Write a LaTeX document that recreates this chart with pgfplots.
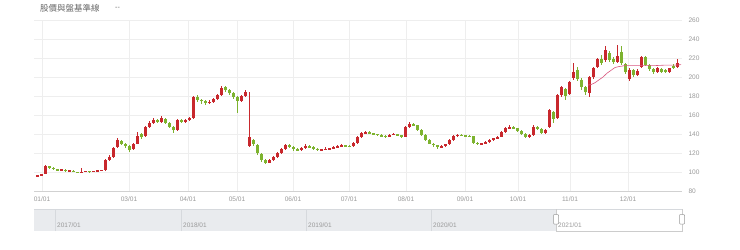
\documentclass[border=0pt]{standalone}
\usepackage{pgfplots}
\pgfplotsset{compat=1.18}
\usepackage{pgfplotstable}
\usepackage{fontspec}
\setmainfont{Liberation Sans}
\newfontfamily\cjk{Noto Sans CJK TC}
\definecolor{cred}{HTML}{C8282D}
\definecolor{cgreen}{HTML}{7DB32F}
\definecolor{cpink}{HTML}{D9577F}
\definecolor{cgrid}{HTML}{EEEEEE}
\definecolor{clab}{HTML}{999999}
\definecolor{cnav}{HTML}{E9EBEE}
\definecolor{cnavline}{HTML}{D6D9DD}

\pgfplotstableread{
x o c h l
2 96 96.5 97 95.5
6 96.5 97.5 98 96
10 98 106 107 97.5
14 106 104 106.5 103
18 104.5 103 105 102.5
22 103 102 103.5 101
26 102 102.5 103 101.5
30 102.5 101 103 100.5
34 101 101.5 102 100.5
38 101.5 100 102 99.5
42 100 99.5 100.5 98.5
46 99.5 100.5 104 99
50 100.5 101 101.5 100
54 101 100.5 101.5 99.5
58 100.5 101 101.5 100
62 101 101.5 102 100.5
66 101.5 102 102.5 101
70 102 113 114 101.5
74 113 116 118 112
78 116 125 126 115
82 126 134 136 125
86 133 130 134 128
90 130 127 131 125
94 127 123 128 121
98 124 130 131 123
102 130 138 142 129
106 140 137 141 135
110 138 147 148 137
114 147 152 154 146
118 152 155 157 151
122 155 153 156 152
126 153 157 159 152
130 156 152 157 151
134 152 147 153 146
138 147 144 148 141
142 144 155 156 143
146 155 153 156 152
150 153 155 156 152
154 155 157 158 154
158 157 179 180 156
162 179 176 181 174
166 176 175 177 172
170 175 173 176 171
174 173 174 176 172
178 174 177 178 173
182 177 181 182 176
186 181 188 191 180
190 189 186 190 184
194 186 183 187 181
198 183 179 184 177
202 179 175 180 162
206 175 180 181 174
210 180 184 186 179
214 127 137 184 126
218 134 129 135 127
222 128 120 129 118
226 119 113 120 111
230 113 110 114 108
234 110 113 114 109
238 113 116 117 112
242 116 120 121 115
246 120 124 125 119
250 124 128 129 123
254 128 126 129 125
258 126 124 127 122
262 124 123 125 122
266 123 125 126 122
270 125 127 129 124
274 127 126 128 125
278 126 124.5 127 123.5
282 124.5 123 125 122
286 123 123.5 124 122.5
290 123.5 124 126 123
294 124 124.5 125 123.5
298 124.5 126 127 124
302 126 127 128 125.5
306 127 128 129 126.5
310 128 127.5 128.5 126.5
314 127.5 127 128 126
318 127 131 132 126.5
322 131 137 138 130
326 137 141 142 136
330 141 142 143 140
334 142 141 143 140
338 141 140 141.5 139
342 140 139 140.5 138
346 139 137.5 139.5 137
350 138 137 138.5 136
354 137 139 140 136.5
358 139 140 141 138.5
362 140 138.5 140.5 138
366 138.5 137 139 136
370 137 147 148 136.5
374 147 151 153 146
378 151 149 152 148
382 149 144 150 143
386 144 139 145 138
390 139 134 140 133
394 134 130 135 129
398 130 128 131 126
402 128 126 128.5 124
406 126 127 128 125
410 127 129 130 126
414 129 134 135 128
418 134 138 139 133
422 138 139 140 137
426 139 138.5 139.5 137.5
430 138.5 138 139 137
434 138 137.5 138.5 136.5
438 137.5 131 138 130
442 131 129.5 132 128.5
446 129.5 130 131 129
450 130 132 133 129.5
454 132 134 135 131
458 134 135.5 136 133
462 135.5 137 138 135
466 137 142 143 136.5
470 142 146 147 141
474 146 147 149 145
478 147 146 148 145
482 146 143 146.5 142
486 143 140 144 139
490 140 137 141 136
494 137 139 140 136
498 139 147 149 138
502 147 145 148 144
506 145 141 146 140
510 141 144 145 140
514 147 165 166 146
518 163 156 164 152
522 157 181 182 156
526 181 189 191 179
530 187 180 188 176
534 182 195 196 181
538 199 205 215 197
542 207 198 210 196
546 197 189 199 186
550 189 184 190 181
554 183 200 201 179
558 200 210 211 198
562 211 219 220 209
566 219 215 223 213
570 218 228 233 216
574 225 218 227 216
578 219 216 221 214
582 216 222 234 215
586 226 215 233 213
590 214 205 215 203
594 198 207 209 196
598 207 202 208 200
602 202 206 208 201
606 210 221 222 209
610 221 213 222 212
614 213 208 214 206
618 208 205 209 203
622 205 209 211 204
626 208 205 209 204
630 207 205 208 204
634 205 209 210 204
638 212 209 214 208
642 210 215 219 209
}\candles

\pgfplotstableread{
x y
553 191.5
556 192
560 194
564 197
568 200
572 204
576 207
580 210
584 211
590 212
600 212
610 212
620 212
630 212.5
640 212.5
646 213
}\maline

\begin{document}
\begin{tikzpicture}[x=1bp,y=1bp]
\path[use as bounding box] (0,0) rectangle (740,249);
% title
\node[anchor=west, inner sep=0pt, text=black!60] at (40,241) {\cjk\fontsize{8.5}{9}\selectfont 股價與盤基準線};
\node[anchor=west, inner sep=0pt, text=black!60] at (115,241) {\fontsize{7}{8}\selectfont -{}-};
% navigator
\fill[cnav] (34,18) rectangle (556,40);
\draw[cnavline, line width=0.6bp] (34,40) -- (682,40);
\foreach \xx in {55,181,306,431} {\draw[cnavline, line width=0.6bp] (\xx,18) -- (\xx,40);}
\draw[black!20, line width=0.6bp] (556,40) -- (556,18) -- (682,18) -- (682,40);
\foreach \xx/\lab in {57/{2017/01},183/{2018/01},308/{2019/01},433/{2020/01},558/{2021/01}}
  {\node[anchor=west, inner sep=0pt, text=clab] at (\xx,23.5) {\fontsize{6.5}{7}\selectfont \lab};}
\draw[black!40, fill=white, rounded corners=0.8bp, line width=0.5bp] (553.5,25) rectangle (558.5,34.5);
\draw[black!40, fill=white, rounded corners=0.8bp, line width=0.5bp] (679.5,25) rectangle (684.5,34.5);
\begin{axis}[
  at={(34bp,58bp)}, anchor=south west, scale only axis,
  width=648bp, height=171bp,
  xmin=-1, xmax=647, ymin=80, ymax=260,
  axis y line*=right, axis x line*=bottom,
  axis line style={draw=none},
  major tick length=0pt,
  ytick={80,100,...,260},
  xtick={7,94,153,202,258,314,371,430,483,535,593},
  xticklabels={01/01,03/01,04/01,05/01,06/01,07/01,08/01,09/01,10/01,11/01,12/01},
  grid=major,
  major grid style={cgrid, line width=0.6bp},
  tick label style={font=\fontsize{6.6}{7}\selectfont, text=clab},
  /pgf/number format/assume math mode=true,
  yticklabel style={anchor=west, xshift=3bp},
  xticklabel style={yshift=-2.5bp},
  clip=true,
  candle/.style={draw=none, mark=none, forget plot},
]
\draw[black!18, line width=0.7bp] (axis cs:-1,80) -- (axis cs:647,80);
% red (up) wicks and bodies
\addplot[candle,
  restrict expr to domain={\thisrow{c}-\thisrow{o}}{0:1000},
  error bars/.cd, y dir=both, y explicit, error mark=none,
  error bar style={draw=cred, line width=0.7bp}]
  table[x=x, y expr={(\thisrow{h}+\thisrow{l})/2}, y error expr={(\thisrow{h}-\thisrow{l})/2}] {\candles};
\addplot[candle,
  restrict expr to domain={\thisrow{c}-\thisrow{o}}{0:1000},
  error bars/.cd, y dir=both, y explicit, error mark=none,
  error bar style={draw=cred, line width=3bp}]
  table[x=x, y expr={(\thisrow{o}+\thisrow{c})/2}, y error expr={max(abs(\thisrow{c}-\thisrow{o})/2,0.5)}] {\candles};
% green (down) wicks and bodies
\addplot[candle,
  restrict expr to domain={\thisrow{c}-\thisrow{o}}{-1000:-0.01},
  error bars/.cd, y dir=both, y explicit, error mark=none,
  error bar style={draw=cgreen, line width=0.7bp}]
  table[x=x, y expr={(\thisrow{h}+\thisrow{l})/2}, y error expr={(\thisrow{h}-\thisrow{l})/2}] {\candles};
\addplot[candle,
  restrict expr to domain={\thisrow{c}-\thisrow{o}}{-1000:-0.01},
  error bars/.cd, y dir=both, y explicit, error mark=none,
  error bar style={draw=cgreen, line width=3bp}]
  table[x=x, y expr={(\thisrow{o}+\thisrow{c})/2}, y error expr={max(abs(\thisrow{c}-\thisrow{o})/2,0.5)}] {\candles};
% moving average line
\addplot[cpink, line width=0.6bp, mark=none] table[x=x, y=y] {\maline};
\end{axis}
\end{tikzpicture}
\end{document}
